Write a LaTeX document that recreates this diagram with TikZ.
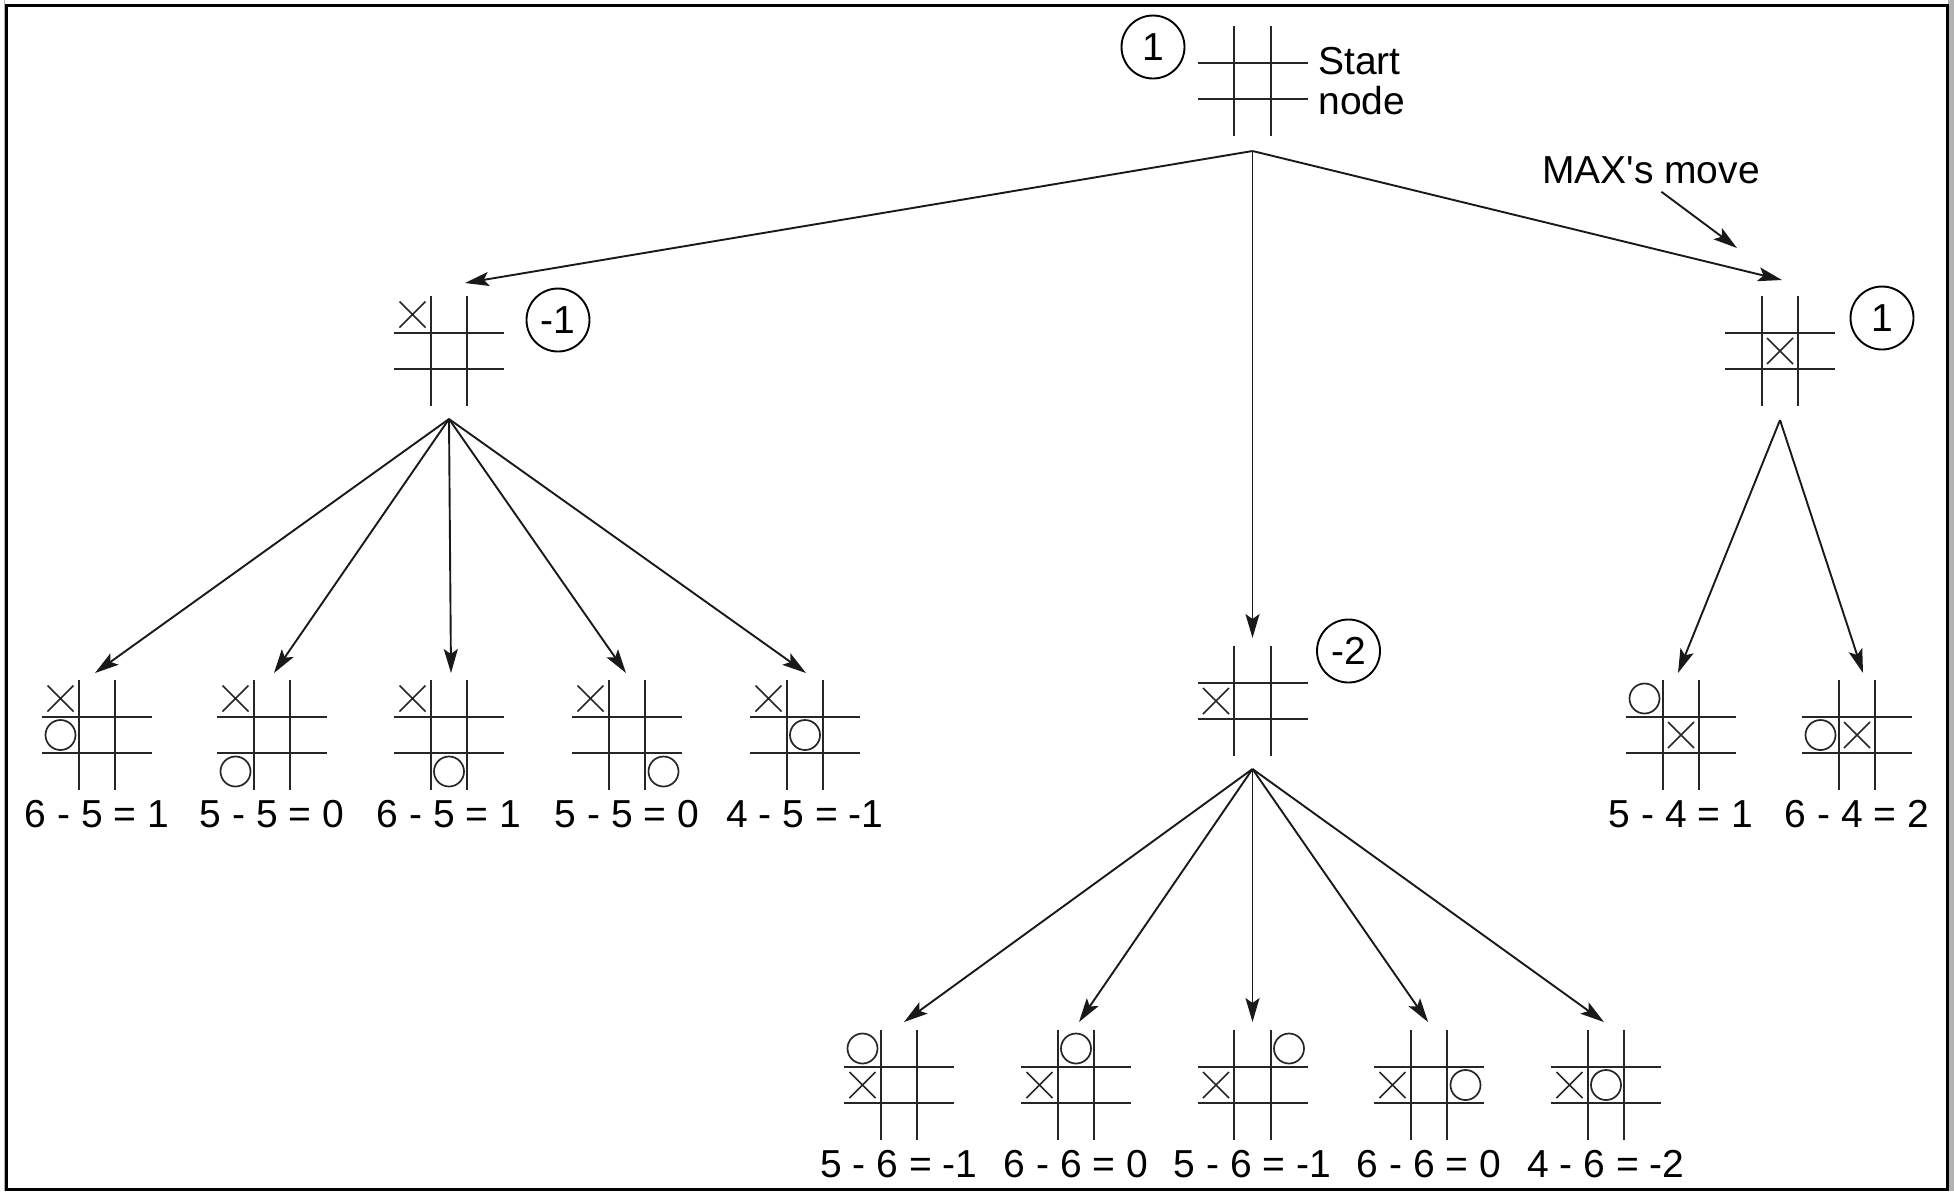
\documentclass[tikz,border=0pt]{standalone}
\usepackage{fontspec}
\setmainfont{Liberation Sans}
\usetikzlibrary{arrows.meta,calc}
\tikzset{
  boardbox/.style={minimum size=55pt, inner sep=0pt, outer sep=0pt, draw=none},
  gridline/.style={line width=1.05pt, black!85},
  markline/.style={line width=0.85pt, black!85},
  valcirc/.style={circle, draw, line width=0.95pt, minimum size=31.5pt, inner sep=0pt, font=\fontsize{19.5}{19.5}\selectfont},
  lbl/.style={inner sep=0pt, font=\fontsize{19.5}{19.5}\selectfont},
  arr/.style={line width=0.95pt, black!90, -{Stealth[length=12pt,width=7pt,inset=2.5pt]}},
}
\newcommand\tttboard[3]{%
  \node[boardbox] (#1) at (#2) {};
  \begin{scope}[shift={(#1.center)}]
    \draw[gridline] (-55,-18.25) -- (55,-18.25) (-55,18.25) -- (55,18.25)
                    (-18.25,-55) -- (-18.25,55) (18.25,-55) -- (18.25,55);
    #3
  \end{scope}}
\newcommand\markX[2]{\draw[markline] ({(#1-1)*36.5-13},{(#2-1)*36.5-13}) -- ++(26,26)
  ({(#1-1)*36.5+13},{(#2-1)*36.5-13}) -- ++(-26,26);}
\newcommand\markO[2]{\draw[markline] ({(#1-1)*36.5},{(#2-1)*36.5}) circle[radius=15];}
\begin{document}
\begin{tikzpicture}[x=0.5pt,y=-0.5pt]
\useasboundingbox (0,0) rectangle (1954,1191);
\fill[gray!60] (1948,0) rectangle (1954,1191);
\fill[gray!60] (3.5,0) rectangle (5,1191);
\draw[line width=1.5pt] (6,5.5) rectangle (1947,1189.5);

% boards
\tttboard{B0}{1252.5,81}{}
\tttboard{B1}{449,351}{\markX{0}{0}}
\tttboard{B2}{1252.5,701}{\markX{0}{1}}
\tttboard{B3}{1780,351}{\markX{1}{1}}

\tttboard{L1}{97,735}{\markX{0}{0}\markO{0}{1}}
\tttboard{L2}{272,735}{\markX{0}{0}\markO{0}{2}}
\tttboard{L3}{449,735}{\markX{0}{0}\markO{1}{2}}
\tttboard{L4}{627,735}{\markX{0}{0}\markO{2}{2}}
\tttboard{L5}{805,735}{\markX{0}{0}\markO{1}{1}}

\tttboard{M1}{899,1085}{\markX{0}{1}\markO{0}{0}}
\tttboard{M2}{1076,1085}{\markX{0}{1}\markO{1}{0}}
\tttboard{M3}{1252.5,1085}{\markX{0}{1}\markO{2}{0}}
\tttboard{M4}{1429,1085}{\markX{0}{1}\markO{2}{1}}
\tttboard{M5}{1606,1085}{\markX{0}{1}\markO{1}{1}}

\tttboard{R1}{1681,735}{\markX{1}{1}\markO{0}{0}}
\tttboard{R2}{1857,735}{\markX{1}{1}\markO{0}{1}}

% values
\node[valcirc] (v0) at (1153,47) {1};
\node[valcirc] (v1) at (558,320) {-1};
\node[valcirc] (v2) at (1348.5,651) {-2};
\node[valcirc] (v3) at (1882,318) {1};

% texts
\node[lbl, anchor=north west, align=left, font=\fontsize{19.5}{19.8}\selectfont] (start) at (1318,47) {Start\\node};
\node[lbl] (max) at (1651,170) {MAX\textquotesingle s move};
\coordinate (maxtip) at (1737,248);
\draw[arr, shorten <=6.5pt] (max.south) -- (maxtip);

% leaf labels
\foreach \n/\t in {L1/6 - 5 = 1, L2/5 - 5 = 0, L3/6 - 5 = 1, L4/5 - 5 = 0, L5/4 - 5 = -1,
                   R1/5 - 4 = 1, R2/6 - 4 = 2}
  \node[lbl, anchor=base] (t\n) at ($(\n.center)+(0,92)$) {\t};
\foreach \n/\t in {M1/5 - 6 = -1, M2/6 - 6 = 0, M3/5 - 6 = -1, M4/6 - 6 = 0, M5/4 - 6 = -2}
  \node[lbl, anchor=base] (t\n) at ($(\n.center)+(0,92)$) {\t};

% connectors
\draw[arr] ($(B0.south)+(0,15)$) -- ($(B1.north)+(16,-13)$);
\draw[arr] ($(B0.south)+(0,15)$) -- ($(B2.north)+(0,-8)$);
\draw[arr] ($(B0.south)+(0,15)$) -- ($(B3.north)+(2,-16)$);

\foreach \c/\dx in {L1/-2, L2/2, L3/2, L4/-1, L5/1}
  \draw[arr] ($(B1.south)+(0,13)$) -- ($(\c.north)+(\dx,-7)$);
\foreach \c/\dx in {M1/5, M2/3, M3/0, M4/-1, M5/-2}
  \draw[arr] ($(B2.south)+(0,13)$) -- ($(\c.north)+(\dx,-8)$);
\foreach \c/\dx in {R1/-3, R2/6}
  \draw[arr] ($(B3.south)+(0,14)$) -- ($(\c.north)+(\dx,-7)$);
\end{tikzpicture}
\end{document}
